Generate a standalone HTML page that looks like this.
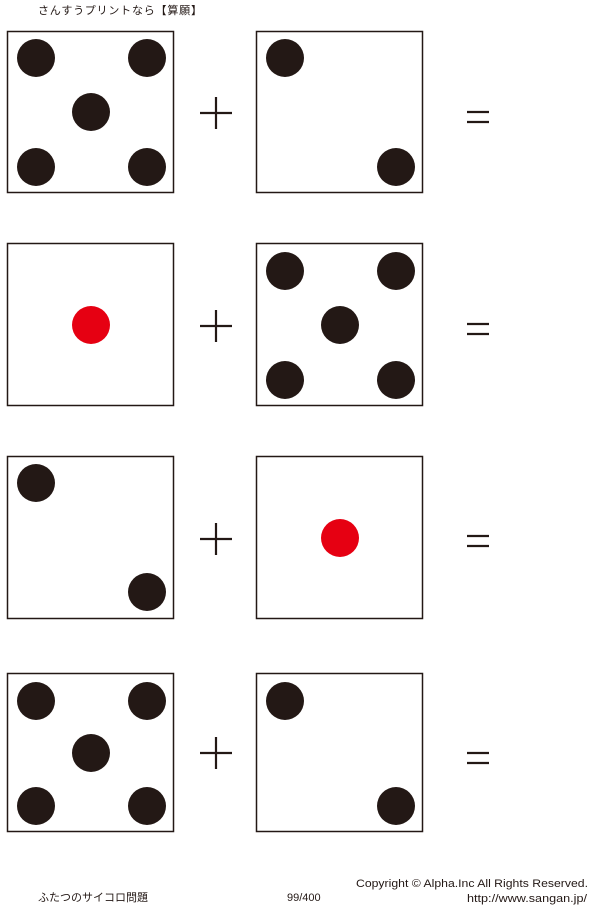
<!DOCTYPE html>
<html><head><meta charset="utf-8"><style>
html,body{margin:0;padding:0;background:#fff;width:600px;height:907px;overflow:hidden}
svg{display:block}
text{font-family:"Liberation Sans","Noto Sans CJK JP",sans-serif;fill:#231815}
</style></head><body>
<svg width="600" height="907" viewBox="0 0 600 907" xmlns="http://www.w3.org/2000/svg">
<text x="38" y="14" font-size="11" letter-spacing="0.8">さんすうプリントなら【算願】</text>
<g fill="none" stroke="#231815" stroke-width="1.5">
<rect x="7.5" y="31.5" width="166" height="161"/>
<rect x="256.5" y="31.5" width="166" height="161"/>
<rect x="7.5" y="243.5" width="166" height="162"/>
<rect x="256.5" y="243.5" width="166" height="162"/>
<rect x="7.5" y="456.5" width="166" height="162"/>
<rect x="256.5" y="456.5" width="166" height="162"/>
<rect x="7.5" y="673.5" width="166" height="158"/>
<rect x="256.5" y="673.5" width="166" height="158"/>
</g>
<g fill="#231815">
<circle cx="36" cy="58" r="19"/><circle cx="147" cy="58" r="19"/><circle cx="91" cy="112" r="19"/><circle cx="36" cy="167" r="19"/><circle cx="147" cy="167" r="19"/>
<circle cx="285" cy="58" r="19"/><circle cx="396" cy="167" r="19"/>
<circle cx="285" cy="271" r="19"/><circle cx="396" cy="271" r="19"/><circle cx="340" cy="325" r="19"/><circle cx="285" cy="380" r="19"/><circle cx="396" cy="380" r="19"/>
<circle cx="36" cy="483" r="19"/><circle cx="147" cy="592" r="19"/>
<circle cx="36" cy="701" r="19"/><circle cx="147" cy="701" r="19"/><circle cx="91" cy="753" r="19"/><circle cx="36" cy="806" r="19"/><circle cx="147" cy="806" r="19"/>
<circle cx="285" cy="701" r="19"/><circle cx="396" cy="806" r="19"/>
</g>
<g fill="#e60012">
<circle cx="91" cy="325" r="19"/><circle cx="340" cy="538" r="19"/>
</g>
<g stroke="#231815" stroke-width="2.2">
<path d="M200 113H232M216 97V129"/>
<path d="M200 326H232M216 310V342"/>
<path d="M200 539H232M216 523V555"/>
<path d="M200 753H232M216 737V769"/>
<path d="M467 112H489M467 122H489"/>
<path d="M467 324H489M467 334H489"/>
<path d="M467 536H489M467 546H489"/>
<path d="M467 753H489M467 763H489"/>
</g>
<text x="38" y="901" font-size="11">ふたつのサイコロ問題</text>
<text x="287" y="901" font-size="11">99/400</text>
<text x="356" y="887" font-size="11" textLength="232" lengthAdjust="spacingAndGlyphs">Copyright ©  Alpha.Inc All Rights Reserved.</text>
<text x="467" y="902" font-size="11" textLength="120" lengthAdjust="spacingAndGlyphs">http://www.sangan.jp/</text>
</svg>
</body></html>
